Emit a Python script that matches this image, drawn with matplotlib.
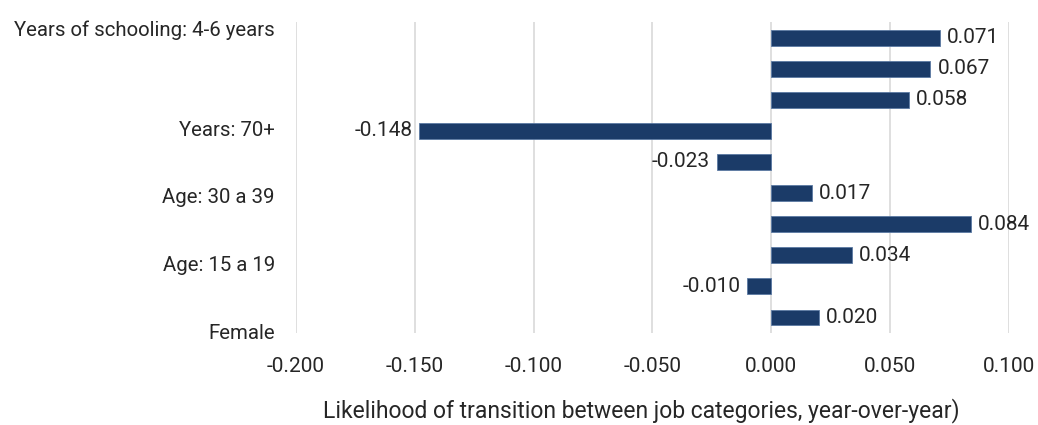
import matplotlib
matplotlib.use("Agg")
import matplotlib.pyplot as plt

# Coefficients, bottom to top
values = [0.020, -0.010, 0.034, 0.084, 0.017, -0.023, -0.148, 0.058, 0.067, 0.071]
value_labels = ["0.020", "-0.010", "0.034", "0.084", "0.017", "-0.023", "-0.148", "0.058", "0.067", "0.071"]
shown_labels = ["Female", "Age: 15 a 19", "Age: 30 a 39", "Years: 70+", "Years of schooling: 4-6 years"]
shown_label_pos = [-0.45, 1.73, 3.91, 6.09, 9.29]
x_ticks = [-0.200, -0.150, -0.100, -0.050, 0.000, 0.050, 0.100]
x_label = "Likelihood of transition between job categories, year-over-year)"

BAR = "#1b3b68"
TEXT = "#262626"
GRID = "#d9d9d9"

plt.rcParams["font.family"] = ["Roboto", "DejaVu Sans"]

fig = plt.figure(figsize=(10.38, 4.25), dpi=100)
ax = fig.add_axes([0.285, 0.2165, 0.687, 0.7315])

pos = list(range(len(values)))
ax.barh(pos, values, height=0.51, color=BAR, edgecolor="#5b7aa3", linewidth=0.6, zorder=3)

for y, v, s in zip(pos, values, value_labels):
    if v >= 0:
        ax.text(v + 0.003, y, s, ha="left", va="center", fontsize=15, color=TEXT)
    else:
        ax.text(v - 0.003, y, s, ha="right", va="center", fontsize=15, color=TEXT)

ax.set_xlim(-0.2, 0.1)
ax.set_ylim(-0.5, 9.5)
ax.set_xticks(x_ticks)
ax.set_xticklabels([f"{t:.3f}" for t in x_ticks], fontsize=15, color=TEXT)
ax.set_yticks(shown_label_pos)
ax.set_yticklabels(shown_labels, fontsize=14.7, color=TEXT)
ax.tick_params(axis="both", length=0)
ax.tick_params(axis="x", pad=17)
ax.tick_params(axis="y", pad=15)

ax.grid(axis="x", color=GRID, linewidth=1.2, zorder=0)
ax.grid(axis="y", visible=False)
for sp in ax.spines.values():
    sp.set_visible(False)

xl = ax.set_xlabel(x_label, fontsize=16.5, color=TEXT)
xl.set_verticalalignment("center")
ax.xaxis.set_label_coords(0.485, -0.248)

fig.savefig("out.png", dpi=100, facecolor="white")
